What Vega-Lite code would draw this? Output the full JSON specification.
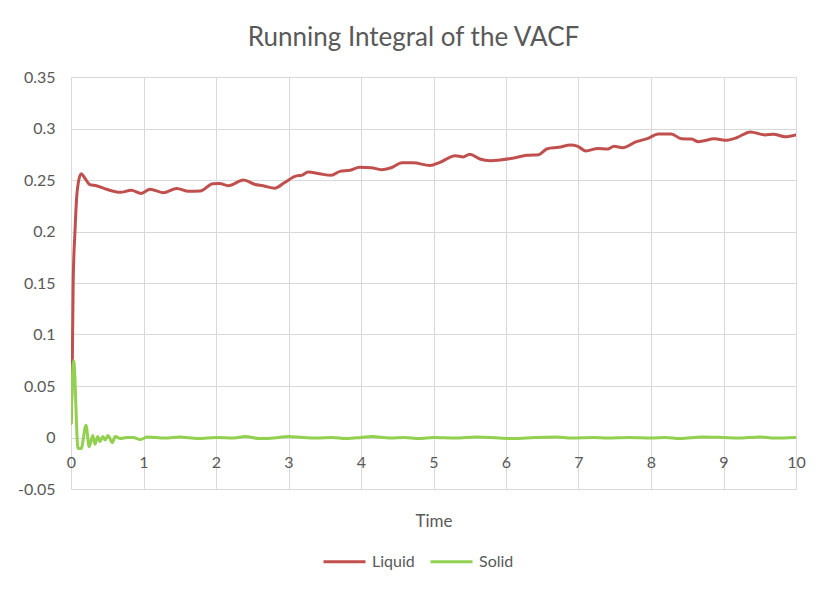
{
  "$schema": "https://vega.github.io/schema/vega-lite/v6.json",
  "autosize": {"type": "none"},
  "padding": {"left": 71, "top": 77, "right": 33, "bottom": 103},
  "width": 725,
  "height": 412,
  "background": "white",
  "title": {
    "text": "Running Integral of the VACF",
    "anchor": "middle",
    "dx": -20,
    "fontSize": 26,
    "fontWeight": "normal",
    "font": "Lato",
    "color": "#595959",
    "baseline": "alphabetic",
    "offset": -3
  },
  "data": {
    "values": [
      {"t": 0, "v": 0.014, "s": "Liquid"},
      {"t": 0.018, "v": 0.072, "s": "Liquid"},
      {"t": 0.03, "v": 0.15, "s": "Liquid"},
      {"t": 0.055, "v": 0.2, "s": "Liquid"},
      {"t": 0.08, "v": 0.235, "s": "Liquid"},
      {"t": 0.1, "v": 0.247, "s": "Liquid"},
      {"t": 0.14, "v": 0.256, "s": "Liquid"},
      {"t": 0.19, "v": 0.252, "s": "Liquid"},
      {"t": 0.26, "v": 0.2455, "s": "Liquid"},
      {"t": 0.35, "v": 0.2445, "s": "Liquid"},
      {"t": 0.49, "v": 0.241, "s": "Liquid"},
      {"t": 0.68, "v": 0.238, "s": "Liquid"},
      {"t": 0.83, "v": 0.24, "s": "Liquid"},
      {"t": 0.97, "v": 0.237, "s": "Liquid"},
      {"t": 1.09, "v": 0.241, "s": "Liquid"},
      {"t": 1.27, "v": 0.2377, "s": "Liquid"},
      {"t": 1.46, "v": 0.2418, "s": "Liquid"},
      {"t": 1.62, "v": 0.239, "s": "Liquid"},
      {"t": 1.78, "v": 0.2393, "s": "Liquid"},
      {"t": 1.96, "v": 0.2464, "s": "Liquid"},
      {"t": 2.05, "v": 0.2465, "s": "Liquid"},
      {"t": 2.17, "v": 0.2445, "s": "Liquid"},
      {"t": 2.38, "v": 0.25, "s": "Liquid"},
      {"t": 2.54, "v": 0.2457, "s": "Liquid"},
      {"t": 2.65, "v": 0.2445, "s": "Liquid"},
      {"t": 2.81, "v": 0.242, "s": "Liquid"},
      {"t": 2.95, "v": 0.2477, "s": "Liquid"},
      {"t": 3.11, "v": 0.254, "s": "Liquid"},
      {"t": 3.18, "v": 0.2545, "s": "Liquid"},
      {"t": 3.27, "v": 0.2578, "s": "Liquid"},
      {"t": 3.43, "v": 0.256, "s": "Liquid"},
      {"t": 3.59, "v": 0.2545, "s": "Liquid"},
      {"t": 3.71, "v": 0.2584, "s": "Liquid"},
      {"t": 3.85, "v": 0.2594, "s": "Liquid"},
      {"t": 3.98, "v": 0.2623, "s": "Liquid"},
      {"t": 4.14, "v": 0.262, "s": "Liquid"},
      {"t": 4.28, "v": 0.26, "s": "Liquid"},
      {"t": 4.44, "v": 0.2626, "s": "Liquid"},
      {"t": 4.56, "v": 0.2668, "s": "Liquid"},
      {"t": 4.72, "v": 0.2668, "s": "Liquid"},
      {"t": 4.95, "v": 0.264, "s": "Liquid"},
      {"t": 5.09, "v": 0.2672, "s": "Liquid"},
      {"t": 5.3, "v": 0.2736, "s": "Liquid"},
      {"t": 5.41, "v": 0.2724, "s": "Liquid"},
      {"t": 5.5, "v": 0.275, "s": "Liquid"},
      {"t": 5.64, "v": 0.2704, "s": "Liquid"},
      {"t": 5.78, "v": 0.2688, "s": "Liquid"},
      {"t": 5.92, "v": 0.2694, "s": "Liquid"},
      {"t": 6.11, "v": 0.2714, "s": "Liquid"},
      {"t": 6.29, "v": 0.274, "s": "Liquid"},
      {"t": 6.45, "v": 0.2746, "s": "Liquid"},
      {"t": 6.57, "v": 0.2804, "s": "Liquid"},
      {"t": 6.73, "v": 0.2817, "s": "Liquid"},
      {"t": 6.89, "v": 0.284, "s": "Liquid"},
      {"t": 6.99, "v": 0.2827, "s": "Liquid"},
      {"t": 7.1, "v": 0.2782, "s": "Liquid"},
      {"t": 7.27, "v": 0.2807, "s": "Liquid"},
      {"t": 7.4, "v": 0.28, "s": "Liquid"},
      {"t": 7.49, "v": 0.2827, "s": "Liquid"},
      {"t": 7.61, "v": 0.2814, "s": "Liquid"},
      {"t": 7.79, "v": 0.287, "s": "Liquid"},
      {"t": 7.96, "v": 0.2905, "s": "Liquid"},
      {"t": 8.1, "v": 0.2947, "s": "Liquid"},
      {"t": 8.28, "v": 0.2947, "s": "Liquid"},
      {"t": 8.42, "v": 0.29, "s": "Liquid"},
      {"t": 8.56, "v": 0.2898, "s": "Liquid"},
      {"t": 8.65, "v": 0.2872, "s": "Liquid"},
      {"t": 8.88, "v": 0.29, "s": "Liquid"},
      {"t": 9.02, "v": 0.2885, "s": "Liquid"},
      {"t": 9.18, "v": 0.291, "s": "Liquid"},
      {"t": 9.37, "v": 0.2967, "s": "Liquid"},
      {"t": 9.57, "v": 0.2938, "s": "Liquid"},
      {"t": 9.69, "v": 0.2944, "s": "Liquid"},
      {"t": 9.85, "v": 0.292, "s": "Liquid"},
      {"t": 10, "v": 0.2938, "s": "Liquid"},
      {"t": 0, "v": 0.0136, "s": "Solid"},
      {"t": 0.037, "v": 0.0745, "s": "Solid"},
      {"t": 0.097, "v": -0.0107, "s": "Solid"},
      {"t": 0.14, "v": -0.0107, "s": "Solid"},
      {"t": 0.207, "v": 0.012, "s": "Solid"},
      {"t": 0.25, "v": -0.009, "s": "Solid"},
      {"t": 0.3, "v": 0.002, "s": "Solid"},
      {"t": 0.33, "v": -0.0065, "s": "Solid"},
      {"t": 0.37, "v": 0.001, "s": "Solid"},
      {"t": 0.4, "v": -0.004, "s": "Solid"},
      {"t": 0.44, "v": 0.001, "s": "Solid"},
      {"t": 0.47, "v": -0.0025, "s": "Solid"},
      {"t": 0.51, "v": 0.002, "s": "Solid"},
      {"t": 0.57, "v": -0.005, "s": "Solid"},
      {"t": 0.61, "v": 0.001, "s": "Solid"},
      {"t": 0.68, "v": -0.001, "s": "Solid"},
      {"t": 0.77, "v": 0.0, "s": "Solid"},
      {"t": 0.86, "v": 0.0, "s": "Solid"},
      {"t": 0.96, "v": -0.002, "s": "Solid"},
      {"t": 1.05, "v": 0.0005, "s": "Solid"},
      {"t": 1.3, "v": -0.0005, "s": "Solid"},
      {"t": 1.5, "v": 0.0005, "s": "Solid"},
      {"t": 1.75, "v": -0.001, "s": "Solid"},
      {"t": 2.0, "v": 0.0, "s": "Solid"},
      {"t": 2.25, "v": -0.0005, "s": "Solid"},
      {"t": 2.4, "v": 0.001, "s": "Solid"},
      {"t": 2.6, "v": -0.001, "s": "Solid"},
      {"t": 2.8, "v": -0.0005, "s": "Solid"},
      {"t": 3.0, "v": 0.001, "s": "Solid"},
      {"t": 3.2, "v": 0.0, "s": "Solid"},
      {"t": 3.4, "v": -0.0005, "s": "Solid"},
      {"t": 3.6, "v": 0.0, "s": "Solid"},
      {"t": 3.8, "v": -0.001, "s": "Solid"},
      {"t": 4.0, "v": 0.0, "s": "Solid"},
      {"t": 4.15, "v": 0.001, "s": "Solid"},
      {"t": 4.4, "v": -0.0005, "s": "Solid"},
      {"t": 4.6, "v": 0.0, "s": "Solid"},
      {"t": 4.8, "v": -0.001, "s": "Solid"},
      {"t": 5.0, "v": 0.0, "s": "Solid"},
      {"t": 5.3, "v": -0.0005, "s": "Solid"},
      {"t": 5.6, "v": 0.0005, "s": "Solid"},
      {"t": 5.9, "v": -0.0005, "s": "Solid"},
      {"t": 6.1, "v": -0.001, "s": "Solid"},
      {"t": 6.4, "v": 0.0, "s": "Solid"},
      {"t": 6.7, "v": 0.0005, "s": "Solid"},
      {"t": 6.9, "v": -0.0005, "s": "Solid"},
      {"t": 7.2, "v": 0.0, "s": "Solid"},
      {"t": 7.4, "v": -0.0005, "s": "Solid"},
      {"t": 7.7, "v": 0.0, "s": "Solid"},
      {"t": 8.0, "v": -0.0005, "s": "Solid"},
      {"t": 8.2, "v": 0.0, "s": "Solid"},
      {"t": 8.4, "v": -0.001, "s": "Solid"},
      {"t": 8.7, "v": 0.0005, "s": "Solid"},
      {"t": 9.0, "v": 0.0, "s": "Solid"},
      {"t": 9.2, "v": -0.0005, "s": "Solid"},
      {"t": 9.5, "v": 0.0005, "s": "Solid"},
      {"t": 9.7, "v": -0.0005, "s": "Solid"},
      {"t": 10, "v": 0.0, "s": "Solid"}
    ]
  },
  "mark": {"type": "line", "interpolate": "monotone", "strokeWidth": 3, "strokeCap": "round", "clip": true},
  "encoding": {
    "x": {
      "field": "t",
      "type": "quantitative",
      "scale": {"domain": [0, 10], "nice": false},
      "axis": {
        "title": "Time",
        "values": [0, 1, 2, 3, 4, 5, 6, 7, 8, 9, 10],
        "offset": -52,
        "domain": false,
        "ticks": false,
        "labelPadding": 17,
        "labelFlush": false,
        "titleY": 84,
        "titleBaseline": "middle"
      }
    },
    "y": {
      "field": "v",
      "type": "quantitative",
      "scale": {"domain": [-0.05, 0.35], "nice": false, "zero": false},
      "axis": {
        "title": null,
        "values": [-0.05, 0, 0.05, 0.1, 0.15, 0.2, 0.25, 0.3, 0.35],
        "labelExpr": "'' + datum.value",
        "domain": false,
        "ticks": false,
        "labelPadding": 16
      }
    },
    "color": {
      "field": "s",
      "type": "nominal",
      "scale": {"domain": ["Liquid", "Solid"], "range": ["#C0504D", "#92D050"]},
      "legend": {
        "title": null,
        "orient": "none",
        "direction": "horizontal",
        "legendX": 251,
        "legendY": 462,
        "symbolType": "stroke",
        "symbolSize": 1764,
        "symbolStrokeWidth": 3,
        "labelOffset": 5,
        "columnPadding": 9
      }
    }
  },
  "config": {
    "font": "Lato",
    "view": {"stroke": null},
    "axis": {
      "gridColor": "#D9D9D9",
      "gridWidth": 1,
      "labelColor": "#595959",
      "labelFontSize": 16,
      "labelFont": "Lato",
      "titleColor": "#595959",
      "titleFontSize": 17,
      "titleFont": "Lato",
      "titleFontWeight": "normal"
    },
    "legend": {
      "labelColor": "#595959",
      "labelFontSize": 16,
      "labelFont": "Lato"
    }
  }
}
